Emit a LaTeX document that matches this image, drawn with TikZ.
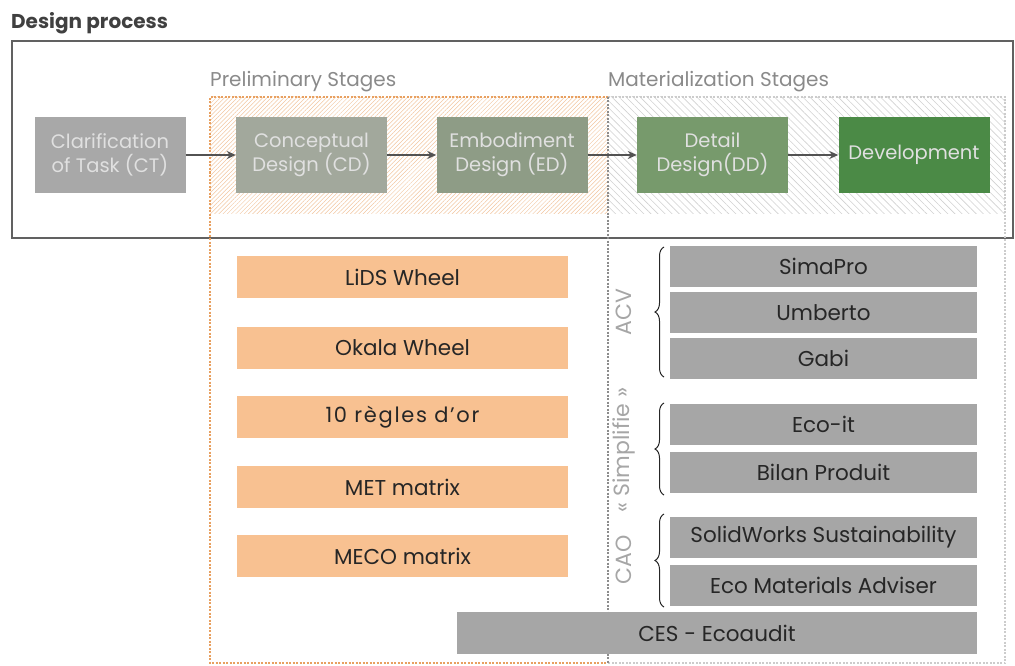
\documentclass[tikz,border=0pt]{standalone}
\usepackage{fontspec}
\setmainfont{Poppins}
\newfontfamily\wideface[LetterSpace=8]{Poppins}
\usetikzlibrary{patterns.meta,decorations.pathreplacing,arrows.meta}
\definecolor{ctgray}{HTML}{A8A8A8}
\definecolor{cdgray}{HTML}{A2A89C}
\definecolor{edgreen}{HTML}{8E9C86}
\definecolor{ddgreen}{HTML}{779A6C}
\definecolor{devgreen}{HTML}{4B8A46}
\definecolor{toolorange}{HTML}{F8C191}
\definecolor{toolgray}{HTML}{A6A6A6}
\definecolor{dashorange}{HTML}{E8A060}
\definecolor{labgray}{HTML}{8A8A8A}
\begin{document}
\begin{tikzpicture}[x=1pt,y=-1pt,
  stage/.style={minimum width=151pt,minimum height=76pt,inner sep=0pt,align=center,
    text=white!88!black,font=\fontsize{19.5}{24}\selectfont},
  otool/.style={fill=toolorange,minimum width=331pt,minimum height=42pt,inner sep=0pt,
    font=\fontsize{21.5}{24}\selectfont,text=black!85},
  gtool/.style={fill=toolgray,minimum width=307pt,minimum height=41pt,inner sep=0pt,
    font=\fontsize{21.5}{24}\selectfont,text=black!85},
  flow/.style={-{Stealth[length=9pt,width=8pt]},line width=1.8pt,draw=black!68},
  grp/.style={rotate=90,font=\fontsize{22}{24}\selectfont,text=black!35},
  brc/.style={decorate,decoration={brace,amplitude=9pt},line width=1pt,draw=black!85},
  hatcho/.style={pattern={Lines[angle=45,distance=3pt,line width=0.5pt]},pattern color=dashorange!60},
  hatchg/.style={pattern={Lines[angle=-45,distance=5pt,line width=0.6pt]},pattern color=black!18},
  dsh/.style={dash pattern=on 2pt off 1.5pt,line width=1.6pt}
]
\useasboundingbox (0,0) rectangle (1015,666);
% title
\node[anchor=west,inner sep=0pt,font=\bfseries\fontsize{20}{24}\selectfont,text=black!75] (title) at (11,23) {Design process};
% outer frame
\draw[line width=2.2pt,draw=black!62] (12,41) rectangle (1013,238);
% hatched stage areas
\fill[hatcho] (210,97) rectangle (608,213);
\fill[hatchg] (608,97) rectangle (1005,213);
% dashed column frames
\draw[dsh,draw=dashorange] (608,97) -- (210,97) -- (210,663) -- (608,663);
\draw[dsh,draw=black!20] (608,97) -- (1005,97) -- (1005,663) -- (608,663);
\draw[dsh,draw=black!45] (608,97) -- (608,663);
% stage labels
\node[anchor=west,inner sep=0pt,font=\fontsize{20}{24}\selectfont,text=labgray] (prelim) at (210,82) {Preliminary Stages};
\node[anchor=west,inner sep=0pt,font=\fontsize{20}{24}\selectfont,text=labgray] (mater) at (608,82) {Materialization Stages};
% stages
\node[stage,fill=ctgray] (ct) at (110,155) {Clarification\\of Task (CT)};
\node[stage,fill=cdgray] (cd) at (311.5,155) {Conceptual\\Design (CD)};
\node[stage,fill=edgreen] (ed) at (512,155) {Embodiment\\Design (ED)};
\node[stage,fill=ddgreen] (dd) at (712.5,155) {Detail\\Design(DD)};
\node[stage,fill=devgreen] (dev) at (914,155) {Development};
\draw[flow] (ct) -- (cd);
\draw[flow] (cd) -- (ed);
\draw[flow] (ed) -- (dd);
\draw[flow] (dd) -- (dev);
% orange tools
\node[otool] (lids) at (402.5,277) {LiDS Wheel};
\node[otool] (okala) at (402.5,348) {Okala Wheel};
\node[otool,font=\wideface\fontsize{21}{24}\selectfont] (regles) at (402.5,417) {10 règles d’or};
\node[otool] (met) at (402.5,487) {MET matrix};
\node[otool] (meco) at (402.5,556) {MECO matrix};
% gray tools
\node[gtool] (simapro) at (823.5,266.5) {SimaPro};
\node[gtool] (umberto) at (823.5,312.5) {Umberto};
\node[gtool] (gabi) at (823.5,358.5) {Gabi};
\node[gtool] (ecoit) at (823.5,424.5) {Eco-it};
\node[gtool] (bilan) at (823.5,472.5) {Bilan Produit};
\node[gtool] (solid) at (823.5,537.5) {SolidWorks Sustainability};
\node[gtool] (ecomat) at (823.5,585.5) {Eco Materials Adviser};
\node[gtool,minimum width=520pt,minimum height=42pt] (ces) at (717,633) {CES - Ecoaudit};
% braces
\coordinate (acvB) at (664,377);
\coordinate (acvT) at (664,247);
\coordinate (simB) at (664,495);
\coordinate (simT) at (664,403);
\coordinate (caoB) at (664,607);
\coordinate (caoT) at (664,514);
\draw[brc] (acvB) -- (acvT);
\draw[brc] (simB) -- (simT);
\draw[brc] (caoB) -- (caoT);
\node[grp] (acv) at (624,312) {ACV};
\node[grp] (simp) at (624,450) {« Simplifie »};
\node[grp] (cao) at (624,560) {CAO};
\end{tikzpicture}
\end{document}
